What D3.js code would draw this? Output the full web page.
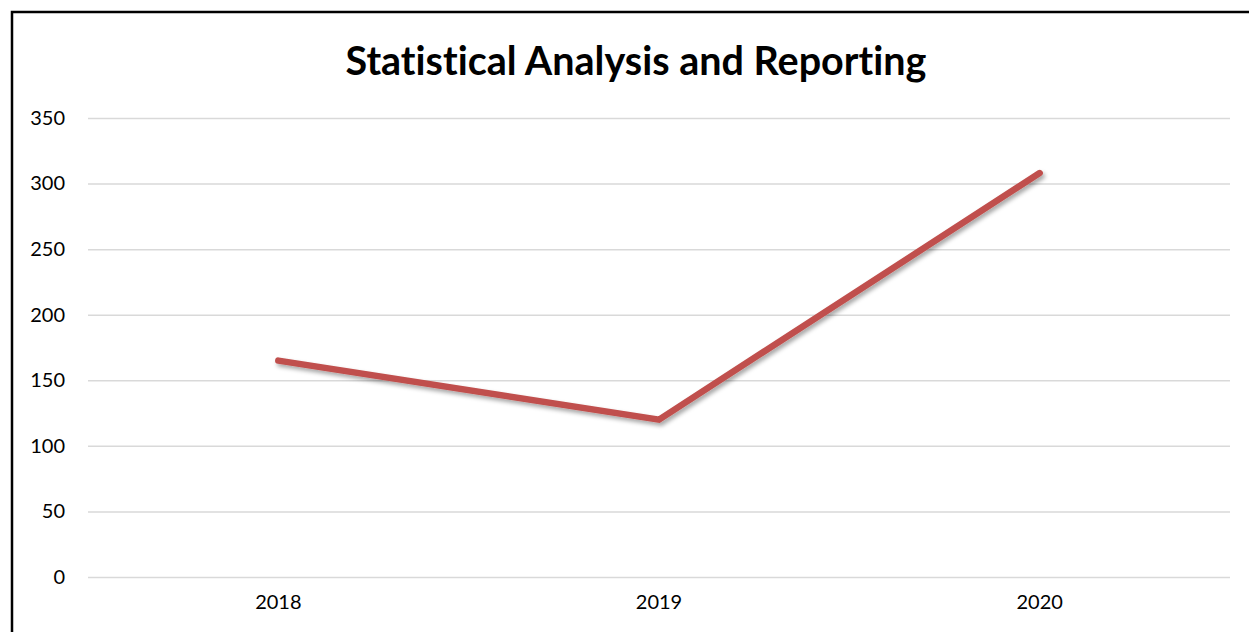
<!DOCTYPE html>
<html>
<head>
<meta charset="utf-8">
<script src="https://cdn.jsdelivr.net/npm/d3@7"></script>
<style>
  body { margin: 0; background: #fff; }
  svg { display: block; }
  text { font-variant-ligatures: none; }
</style>
</head>
<body>
<div id="chart"></div>
<script>
const years = ["2018", "2019", "2020"]
const values = [165, 120, 308]
const yTicks = [0, 50, 100, 150, 200, 250, 300, 350]
const title = "Statistical Analysis and Reporting"

const width = 1249
const height = 632
const margin = { top: 118, right: 19, bottom: 55, left: 88 }
const red = "#C0504D"
const font = "Lato, 'Open Sans', sans-serif"

const svg = d3.select("#chart")
  .append("svg")
  .attr("width", width)
  .attr("height", height)
  .style("font-family", font)

// drop shadow for the line
const defs = svg.append("defs")
const f = defs.append("filter").attr("id", "shadow")
  .attr("x", "-10%").attr("y", "-10%").attr("width", "120%").attr("height", "130%")
f.append("feDropShadow")
  .attr("dx", 2).attr("dy", 3).attr("stdDeviation", 2.2)
  .attr("flood-color", "#000").attr("flood-opacity", 0.35)

// chart frame (right and bottom edges are cropped off)
svg.append("path")
  .attr("d", `M12,${height} V12 H${width}`)
  .attr("fill", "none")
  .attr("stroke", "#000")
  .attr("stroke-width", 2.5)

svg.append("text")
  .attr("x", 636)
  .attr("y", 75)
  .attr("text-anchor", "middle")
  .style("font-weight", "bold")
  .style("font-size", "39.5px")
  .text(title)

const x = d3.scaleBand()
  .domain(years)
  .range([margin.left, width - margin.right])

const y = d3.scaleLinear()
  .domain([0, 350])
  .range([577, margin.top])

// gridlines + y labels
const gy = svg.append("g")
  .attr("transform", `translate(${margin.left},0)`)
  .call(d3.axisLeft(y).tickValues(yTicks).tickSize(-(width - margin.left - margin.right)).tickPadding(23))
gy.attr("font-family", font)
gy.select(".domain").remove()
gy.selectAll(".tick line").attr("stroke", "#d9d9d9").attr("stroke-width", 1.5)
gy.selectAll(".tick text").style("font-size", "20px").attr("fill", "#000")

// x labels
const gx = svg.append("g")
  .attr("transform", `translate(0,577)`)
  .call(d3.axisBottom(x).tickSize(0).tickPadding(18))
gx.attr("font-family", font)
gx.select(".domain").remove()
gx.selectAll(".tick text").style("font-size", "20px").attr("fill", "#000")

const line = d3.line()
  .x((d, i) => x(years[i]) + x.bandwidth() / 2)
  .y(d => y(d))

svg.append("path")
  .datum(values)
  .attr("d", line)
  .attr("fill", "none")
  .attr("stroke", red)
  .attr("stroke-width", 6.5)
  .attr("stroke-linecap", "round")
  .attr("stroke-linejoin", "miter")
  .attr("filter", "url(#shadow)")
</script>
</body>
</html>
